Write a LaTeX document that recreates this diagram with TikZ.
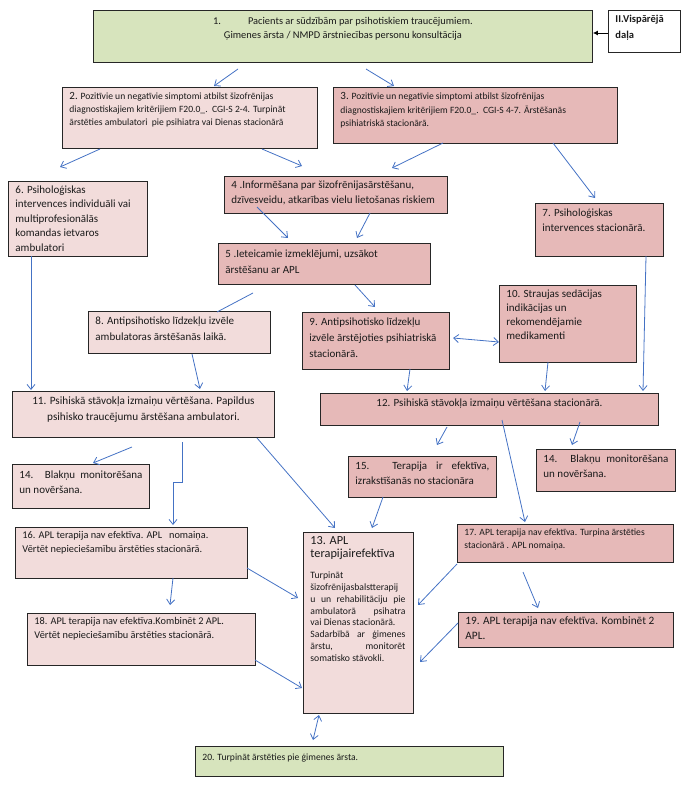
\documentclass[tikz,border=0pt]{standalone}
\usepackage{fontspec}
\setmainfont{Carlito}
\usetikzlibrary{arrows.meta}
\definecolor{gfill}{HTML}{D7E4BD}
\definecolor{plight}{HTML}{F2DCDB}
\definecolor{pdark}{HTML}{E6B9B8}
\definecolor{arrblue}{HTML}{4472C4}
\definecolor{txt}{HTML}{1A1A1A}
\tikzset{
 basebox/.style={draw=black!85, line width=0.9pt, inner sep=0pt, anchor=north west, text=txt},
 gbox/.style={basebox, fill=gfill},
 lbox/.style={basebox, fill=plight},
 dbox/.style={basebox, fill=pdark},
 wbox/.style={basebox, fill=white},
 arr/.style={draw=arrblue, line width=0.8pt, -{Straight Barb[length=5pt,width=8pt]}},
 darr/.style={draw=arrblue, line width=0.8pt, {Straight Barb[length=5pt,width=8pt]}-{Straight Barb[length=5pt,width=8pt]}},
 plainl/.style={draw=arrblue, line width=0.8pt},
 karr/.style={draw=black, line width=0.9pt, -{Latex[length=5pt,width=5pt]}},
}
\newcommand{\fs}[2]{\fontsize{#1}{#2}\selectfont}
\newcommand{\boxnode}[7]{\node[#6, minimum width=#4pt, minimum height=#5pt] (#1) at (#2,-#3) {\parbox[c][#5pt][t]{\dimexpr#4pt-14pt\relax}{#7}};}
\begin{document}
\begin{tikzpicture}[x=1pt,y=1pt]
\path[use as bounding box] (0,0) rectangle (688,-790);

\boxnode{n1}{93}{10}{499}{52}{gbox}{\vspace*{7pt}\centering\fs{10.4}{14}1.\hspace{2.6em}Pacients ar sūdzībām par psihotiskiem traucējumiem.\\Ģimenes ārsta / NMPD ārstniecības personu konsultācija}
\boxnode{nII}{608}{10}{72}{42}{wbox}{\vspace*{5pt}\raggedright\fs{10.5}{16}\bfseries II.Vispārējā\\daļa}
\boxnode{n2}{62}{87}{255}{61}{lbox}{\vspace*{5pt}\raggedright\fs{9.6}{13}{\fs{11}{13}2.} Pozitīvie un negatīvie simptomi atbilst šizofrēnijas\\diagnostiskajiem kritērijiem F20.0\_.\ \ CGI-S 2-4. Turpināt\\ārstēties ambulatori\ \ pie psihiatra vai Dienas stacionārā}
\boxnode{n3}{333}{87}{284}{56}{dbox}{\vspace*{5pt}\raggedright\fs{9.6}{13.5}{\fs{11}{13.5}3.} Pozitīvie un negatīvie simptomi atbilst šizofrēnijas\\diagnostiskajiem kritērijiem F20.0\_.\ \ CGI-S 4-7. Ārstēšanās\\psihiatriskā stacionārā.}
\boxnode{n6}{8}{181}{139}{75}{lbox}{\vspace*{4pt}\raggedright\fs{11}{14.5}6. Psiholoģiskas\\intervences individuāli vai\\multiprofesionālās\\komandas ietvaros\\ambulatori}
\boxnode{n4}{224}{176}{223}{37}{dbox}{\vspace*{4pt}\raggedright\fs{11}{15}4 .Informēšana par šizofrēnijasārstēšanu,\\dzīvesveidu, atkarības vielu lietošanas riskiem}
\boxnode{n7}{535}{203}{128}{53}{dbox}{\vspace*{5pt}\raggedright\fs{11}{15}7. Psiholoģiskas\\intervences stacionārā.}
\boxnode{n5}{218}{243}{212}{41}{dbox}{\vspace*{6pt}\raggedright\fs{11}{16}5 .Ieteicamie izmeklējumi, uzsākot\\ārstēšanu ar APL}
\boxnode{n8}{88}{311}{182}{42}{lbox}{\vspace*{5pt}\raggedright\fs{11}{16}8. Antipsihotisko līdzekļu izvēle\\ambulatoras ārstēšanās laikā.}
\boxnode{n9}{302}{312}{147}{57}{dbox}{\vspace*{5pt}\raggedright\fs{11}{16}9. Antipsihotisko līdzekļu\\izvēle ārstējoties psihiatriskā\\stacionārā.}
\boxnode{n10}{499}{285}{137}{77}{dbox}{\vspace*{4pt}\raggedright\fs{11}{14}10. Straujas sedācijas\\indikācijas un\\rekomendējamie\\medikamenti}
\boxnode{n11}{12}{391}{262}{46}{lbox}{\vspace*{5pt}\centering\fs{11.2}{16}11. Psihiskā stāvokļa izmaiņu vērtēšana. Papildus\\psihisko traucējumu ārstēšana ambulatori.}
\boxnode{n12}{320}{393}{338}{32}{dbox}{\vspace*{5pt}\centering\fs{11}{15}12. Psihiskā stāvokļa izmaiņu vērtēšana stacionārā.}
\boxnode{n14L}{12}{464}{137}{44}{lbox}{\vspace*{6pt}\fs{11}{15}14. Blakņu monitorēšana\linebreak un novēršana.}
\boxnode{n15}{348}{456}{148}{41}{dbox}{\vspace*{5pt}\fs{11}{15}15. Terapija ir efektīva,\linebreak izrakstīšanās no stacionāra}
\boxnode{n14R}{536}{449}{139}{42}{dbox}{\vspace*{5pt}\fs{11}{15}14. Blakņu monitorēšana\linebreak un novēršana.}
\boxnode{n16}{15}{527}{232}{51}{lbox}{\vspace*{4pt}\raggedright\fs{10.3}{14}16. APL terapija nav efektīva. APL\ \ \ nomaiņa.\\Vērtēt nepieciešamību ārstēties stacionārā.}
\boxnode{n13}{303}{532}{110}{181}{lbox}{\vspace*{4pt}{\raggedright\fs{12.3}{13.5}13. APL\\terapijairefektīva\par}\vspace{9pt}\fs{9.7}{11.8}\rightskip=1pt Turpināt\newline šizofrēnijasbalstterapij\newline u un rehabilitāciju pie\linebreak ambulatorā psihatra\linebreak vai Dienas stacionārā.\newline Sadarbībā ar ģimenes\linebreak ārstu, monitorēt\linebreak somatisko stāvokli.}
\boxnode{n17}{457}{524}{216}{38}{dbox}{\vspace*{4pt}\raggedright\fs{9.6}{13}17. APL terapija nav efektīva. Turpina ārstēties\\stacionārā . APL nomaiņa.}
\boxnode{n18}{27}{613}{228}{52}{lbox}{\vspace*{4pt}\raggedright\fs{10.3}{14}18. APL terapija nav efektīva.Kombinēt 2 APL.\\Vērtēt nepieciešamību ārstēties stacionārā.}
\boxnode{n19}{458}{612}{215}{35}{dbox}{\vspace*{4pt}\raggedright\fs{11.3}{15}19. APL terapija nav efektīva. Kombinēt 2\\APL.}
\boxnode{n20}{195}{746}{308}{30}{gbox}{\vspace*{7pt}\raggedright\fs{9.6}{13}20. Turpināt ārstēties pie ģimenes ārsta.}

% connectors
\draw[karr] ([shift={(0,-23)}]nII.north west) -- ([shift={(0,-23)}]n1.north east);
\draw[arr] ([shift={(145,-59)}]n1.north west) -- ([shift={(152,1)}]n2.north west);
\draw[arr] ([shift={(273,-59)}]n1.north west) -- ([shift={(61,1)}]n3.north west);
\draw[arr] ([shift={(38,-62)}]n2.north west) -- ([shift={(52,14)}]n6.north west);
\draw[arr] ([shift={(200,-62)}]n2.north west) -- ([shift={(78,10)}]n4.north west);
\draw[arr] ([shift={(110,-56)}]n3.north west) -- ([shift={(168,8)}]n4.north west);
\draw[arr] ([shift={(220,-56)}]n3.north west) -- ([shift={(60,5)}]n7.north west);
\draw[arr] ([shift={(33,-31)}]n4.north west) -- ([shift={(70,5)}]n5.north west);
\draw[arr] ([shift={(146,-37)}]n4.north west) -- ([shift={(139,5)}]n5.north west);
\draw[arr] ([shift={(137,-42)}]n5.north west) -- ([shift={(73,5)}]n9.north west);
\draw[plainl] ([shift={(35,-50)}]n5.north west) -- ([shift={(129,-1)}]n8.north west);
\draw[arr] ([shift={(23,-75)}]n6.north west) -- ([shift={(19,1)}]n11.north west);
\draw[arr] ([shift={(104,-43)}]n8.north west) -- ([shift={(188,2)}]n11.north west);
\draw[darr] ([shift={(151,-26)}]n9.north west) -- ([shift={(0,-57)}]n10.north west);
\draw[arr] ([shift={(108,-57)}]n9.north west) -- ([shift={(87,2)}]n12.north west);
\draw[arr] ([shift={(49,-77)}]n10.north west) -- ([shift={(225,2)}]n12.north west);
\draw[arr] ([shift={(111,-53)}]n7.north west) -- ([shift={(323,2)}]n12.north west);
\draw[arr] ([shift={(120,-56)}]n11.north west) -- ([shift={(81,1)}]n14L.north west);
\draw[arr] ([shift={(170,-51)}]n11.north west) -- ++(0,-40) -- ++(-9,0) -- ([shift={(158,2)}]n16.north west);
\draw[arr] ([shift={(245,-47)}]n11.north west) -- ([shift={(32,4)}]n13.north west);
\draw[arr] ([shift={(127,-34)}]n12.north west) -- ([shift={(89,11)}]n15.north west);
\draw[arr] ([shift={(260,-29)}]n12.north west) -- ([shift={(36,4)}]n14R.north west);
\draw[arr] ([shift={(182,-27)}]n12.north west) -- ([shift={(68,2)}]n17.north west);
\draw[arr] ([shift={(35,-41)}]n15.north west) -- ([shift={(69,4)}]n13.north west);
\draw[arr] ([shift={(232,-41)}]n16.north west) -- ([shift={(-5,-66)}]n13.north west);
\draw[arr] ([shift={(158,-51)}]n16.north west) -- ([shift={(143,8)}]n18.north west);
\draw[arr] ([shift={(228,-47)}]n18.north west) -- ([shift={(-1,-156)}]n13.north west);
\draw[arr] ([shift={(0,-40)}]n17.north west) -- ([shift={(115,-73)}]n13.north west);
\draw[arr] ([shift={(66,-48)}]n17.north west) -- ([shift={(80,4)}]n19.north west);
\draw[arr] ([shift={(0,-11)}]n19.north west) -- ([shift={(117,-130)}]n13.north west);
\draw[darr] ([shift={(16,-183)}]n13.north west) -- ([shift={(118,6)}]n20.north west);
\end{tikzpicture}
\end{document}
